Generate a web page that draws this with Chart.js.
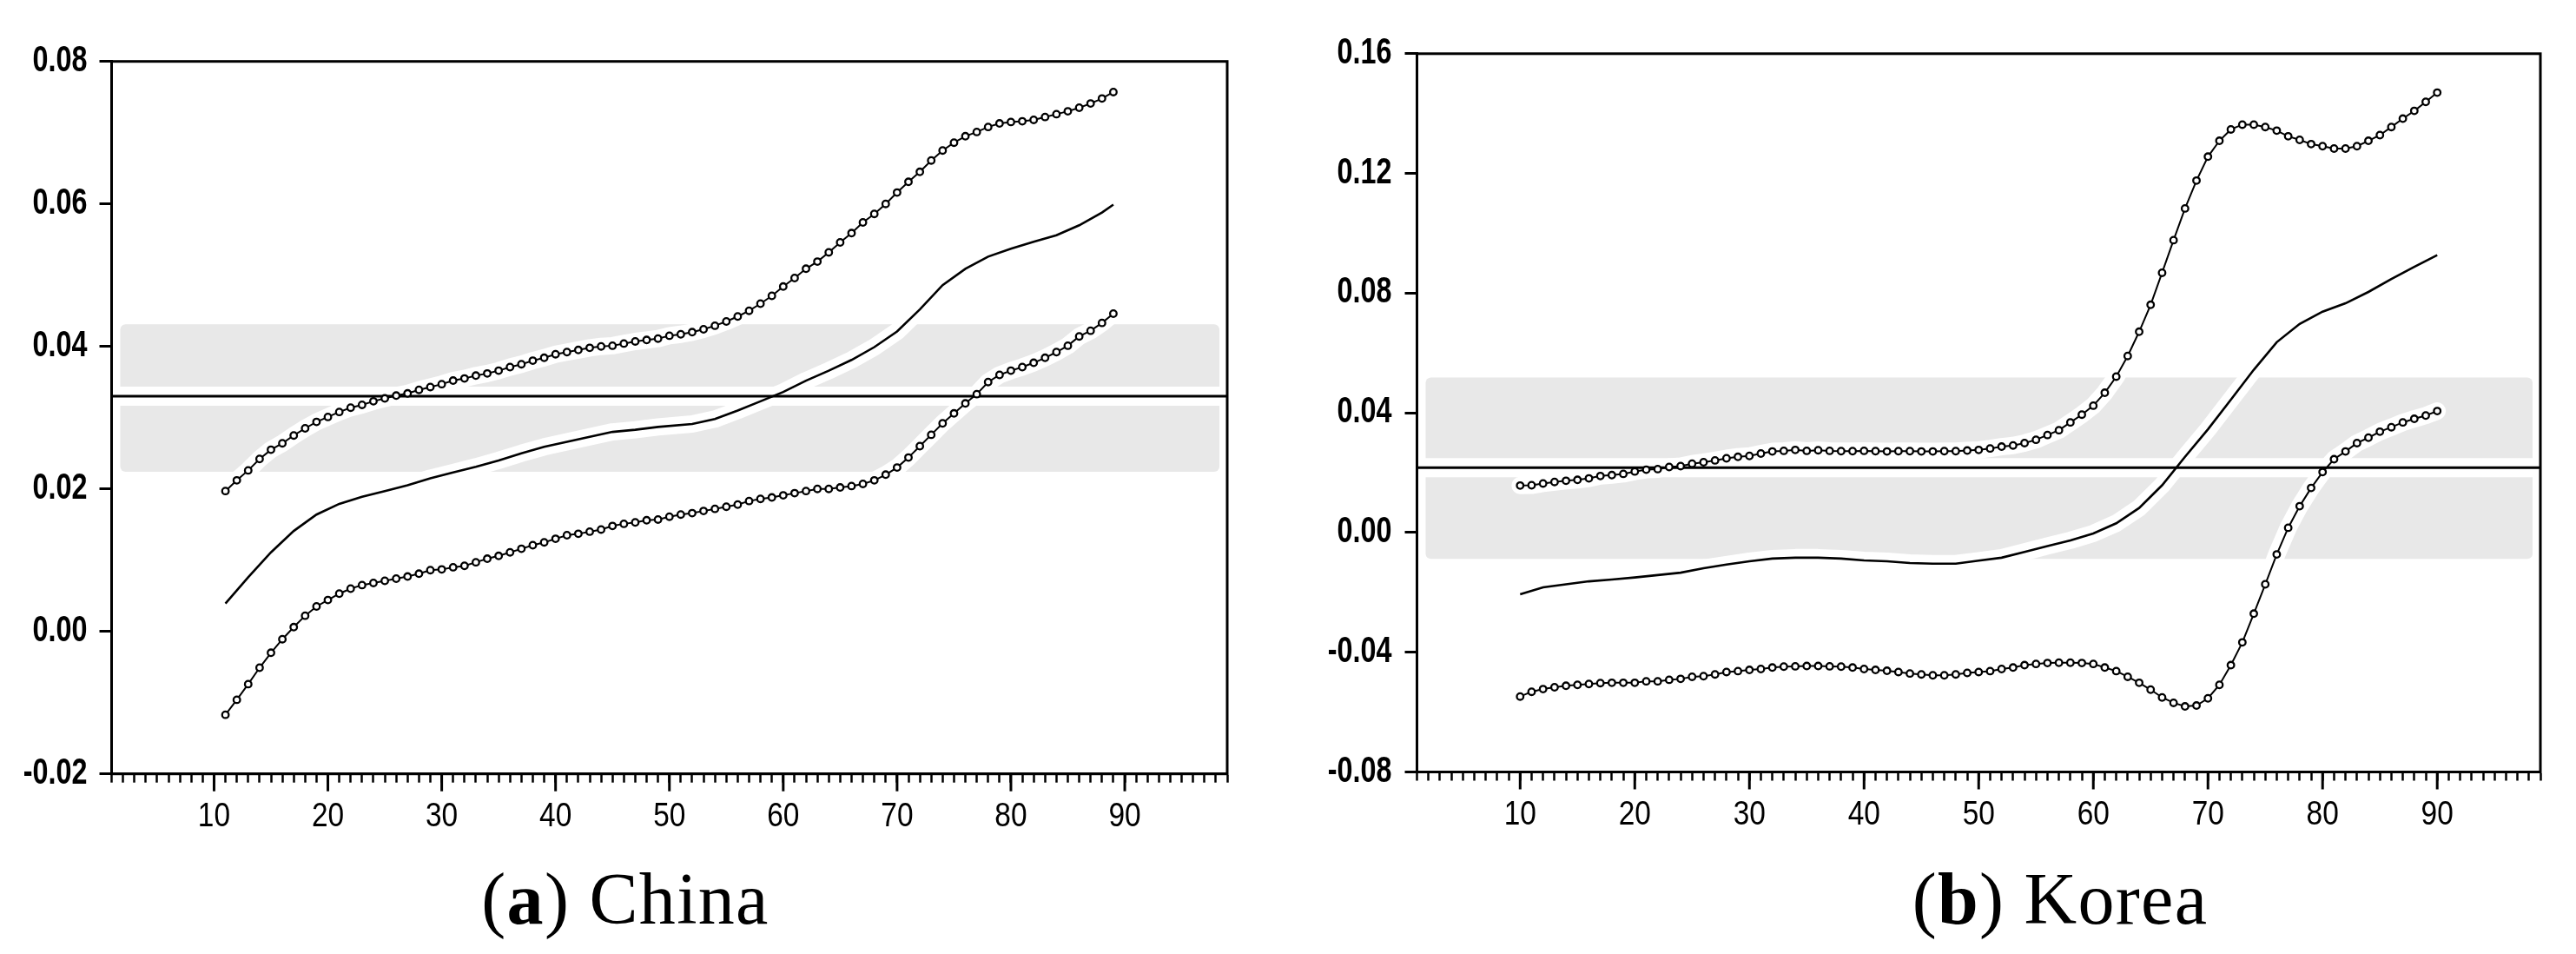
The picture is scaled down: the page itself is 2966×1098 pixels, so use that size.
<!DOCTYPE html>
<html>
<head>
<meta charset="utf-8">
<script src="https://cdn.jsdelivr.net/npm/chart.js@4.4.1/dist/chart.umd.min.js"></script>
<style>
body { margin: 0; background: #fff; width: 2966px; height: 1098px; position: relative; overflow: hidden; }
canvas { position: absolute; top: 0; }
#chinaCanvas { left: 0; }
#koreaCanvas { left: 1480px; }
.caption { position: absolute; top: 993px; font-family: "Liberation Serif", "Times New Roman", serif; font-size: 84px; line-height: 84px; letter-spacing: 1.3px; transform: translateX(-50%); white-space: nowrap; color: #000; }
</style>
</head>
<body>
<canvas id="chinaCanvas" width="1480" height="960"></canvas>
<canvas id="koreaCanvas" width="1486" height="960"></canvas>
<div class="caption" style="left:720px">(<b>a</b>) China</div>
<div class="caption" style="left:2372px">(<b>b</b>) Korea</div>
<script>
// quantiles (x) and estimates

const chinaQ = [11, 12, 13, 14, 15, 16, 17, 18, 19, 20, 21, 22, 23, 24, 25, 26, 27, 28, 29, 30,
    31, 32, 33, 34, 35, 36, 37, 38, 39, 40, 41, 42, 43, 44, 45, 46, 47, 48, 49, 50,
    51, 52, 53, 54, 55, 56, 57, 58, 59, 60, 61, 62, 63, 64, 65, 66, 67, 68, 69, 70,
    71, 72, 73, 74, 75, 76, 77, 78, 79, 80, 81, 82, 83, 84, 85, 86, 87, 88, 89];
const chinaUpper = [0.0197, 0.0212, 0.0226, 0.0242, 0.0255, 0.0264, 0.0275, 0.0285, 0.0294, 0.0301,
    0.0308, 0.0314, 0.0318, 0.0323, 0.0327, 0.0331, 0.0334, 0.0339, 0.0343, 0.0347,
    0.0352, 0.0355, 0.0359, 0.0362, 0.0366, 0.0371, 0.0375, 0.0380, 0.0384, 0.0389,
    0.0392, 0.0395, 0.0398, 0.0400, 0.0401, 0.0404, 0.0407, 0.0409, 0.0411, 0.0415,
    0.0417, 0.0420, 0.0424, 0.0429, 0.0435, 0.0442, 0.0450, 0.0460, 0.0471, 0.0484,
    0.0496, 0.0509, 0.0519, 0.0532, 0.0546, 0.0559, 0.0574, 0.0586, 0.0600, 0.0616,
    0.0631, 0.0645, 0.0661, 0.0675, 0.0686, 0.0695, 0.0701, 0.0708, 0.0713, 0.0715,
    0.0716, 0.0718, 0.0722, 0.0726, 0.0730, 0.0735, 0.0741, 0.0748, 0.0757];
const chinaLower = [-0.0117, -0.0096, -0.0074, -0.0051, -0.0030, -0.0011, 0.0006, 0.0022, 0.0035, 0.0044,
    0.0053, 0.0060, 0.0065, 0.0068, 0.0071, 0.0074, 0.0077, 0.0081, 0.0086, 0.0087,
    0.0090, 0.0092, 0.0097, 0.0102, 0.0106, 0.0111, 0.0116, 0.0121, 0.0125, 0.0130,
    0.0135, 0.0137, 0.0140, 0.0143, 0.0148, 0.0151, 0.0153, 0.0156, 0.0157, 0.0161,
    0.0164, 0.0166, 0.0169, 0.0172, 0.0175, 0.0178, 0.0183, 0.0186, 0.0188, 0.0191,
    0.0194, 0.0197, 0.0200, 0.0200, 0.0202, 0.0204, 0.0207, 0.0212, 0.0220, 0.0230,
    0.0244, 0.0260, 0.0276, 0.0292, 0.0306, 0.0320, 0.0333, 0.0350, 0.0360, 0.0366,
    0.0371, 0.0377, 0.0384, 0.0392, 0.0401, 0.0414, 0.0422, 0.0433, 0.0446];
const chinaMidQ = [11, 13, 15, 17, 19, 21, 23, 25, 27, 29, 31, 33, 35, 37, 39, 41, 43, 45, 47, 49,
    52, 54, 56, 58, 60, 62, 64, 66, 68, 70, 72, 74, 76, 78, 80, 82, 84, 86, 88, 89];
const chinaMid = [0.0039, 0.0076, 0.0111, 0.0141, 0.0164, 0.0179, 0.0189, 0.0197, 0.0205, 0.0215,
    0.0223, 0.0231, 0.0240, 0.0250, 0.0259, 0.0266, 0.0273, 0.0280, 0.0283, 0.0287,
    0.0291, 0.0298, 0.0310, 0.0323, 0.0336, 0.0352, 0.0366, 0.0381, 0.0399, 0.0421,
    0.0452, 0.0486, 0.0509, 0.0526, 0.0537, 0.0547, 0.0556, 0.0570, 0.0588, 0.0599];
const chinaRef = 0.0330;
const chinaBand = [0.0224, 0.0431];

const koreaQ = [10, 11, 12, 13, 14, 15, 16, 17, 18, 19, 20, 21, 22, 23, 24, 25, 26, 27, 28, 29,
    30, 31, 32, 33, 34, 35, 36, 37, 38, 39, 40, 41, 42, 43, 44, 45, 46, 47, 48, 49,
    50, 51, 52, 53, 54, 55, 56, 57, 58, 59, 60, 61, 62, 63, 64, 65, 66, 67, 68, 69,
    70, 71, 72, 73, 74, 75, 76, 77, 78, 79, 80, 81, 82, 83, 84, 85, 86, 87, 88, 89, 90];
const koreaUpper = [0.0157, 0.0158, 0.0164, 0.0169, 0.0173, 0.0176, 0.0181, 0.0189, 0.0192, 0.0196,
    0.0204, 0.0210, 0.0212, 0.0219, 0.0222, 0.0230, 0.0235, 0.0241, 0.0248, 0.0253,
    0.0256, 0.0264, 0.0271, 0.0273, 0.0276, 0.0273, 0.0275, 0.0273, 0.0272, 0.0272,
    0.0273, 0.0272, 0.0271, 0.0272, 0.0272, 0.0271, 0.0271, 0.0272, 0.0272, 0.0274,
    0.0276, 0.0281, 0.0287, 0.0291, 0.0299, 0.0310, 0.0326, 0.0342, 0.0368, 0.0394,
    0.0424, 0.0467, 0.0521, 0.0590, 0.0671, 0.0761, 0.0868, 0.0977, 0.1083, 0.1176,
    0.1256, 0.1309, 0.1347, 0.1363, 0.1363, 0.1355, 0.1343, 0.1324, 0.1312, 0.1298,
    0.1291, 0.1283, 0.1283, 0.1291, 0.1309, 0.1328, 0.1355, 0.1383, 0.1409, 0.1439, 0.1470];
const koreaLower = [-0.0548, -0.0532, -0.0523, -0.0517, -0.0512, -0.0509, -0.0506, -0.0503, -0.0502, -0.0502,
    -0.0502, -0.0497, -0.0497, -0.0492, -0.0489, -0.0482, -0.0480, -0.0474, -0.0466, -0.0463,
    -0.0459, -0.0456, -0.0451, -0.0448, -0.0447, -0.0446, -0.0446, -0.0447, -0.0448, -0.0451,
    -0.0456, -0.0459, -0.0462, -0.0466, -0.0471, -0.0474, -0.0477, -0.0477, -0.0474, -0.0469,
    -0.0466, -0.0463, -0.0456, -0.0451, -0.0443, -0.0439, -0.0436, -0.0435, -0.0435, -0.0436,
    -0.0439, -0.0451, -0.0463, -0.0482, -0.0502, -0.0525, -0.0551, -0.0569, -0.0581, -0.0578,
    -0.0554, -0.0509, -0.0443, -0.0367, -0.0271, -0.0173, -0.0073, 0.0016, 0.0088, 0.0149,
    0.0202, 0.0245, 0.0271, 0.0299, 0.0317, 0.0337, 0.0352, 0.0368, 0.0380, 0.0391, 0.0406];
const koreaMidQ = [10, 12, 14, 16, 18, 20, 22, 24, 26, 28, 30, 32, 34, 36, 38, 40, 42, 44, 46, 48,
    50, 52, 54, 56, 58, 60, 62, 64, 66, 68, 70, 72, 74, 76, 78, 80, 82, 84, 86, 88, 90];
const koreaMid = [-0.0206, -0.0183, -0.0173, -0.0163, -0.0157, -0.0150, -0.0142, -0.0134, -0.0119, -0.0107,
    -0.0096, -0.0087, -0.0084, -0.0084, -0.0087, -0.0093, -0.0096, -0.0102, -0.0104, -0.0104,
    -0.0094, -0.0084, -0.0065, -0.0045, -0.0026, -0.0003, 0.0031, 0.0082, 0.0158, 0.0253,
    0.0345, 0.0444, 0.0544, 0.0636, 0.0697, 0.0738, 0.0766, 0.0804, 0.0847, 0.0888, 0.0927];
const koreaRef = 0.0217;
const koreaBand = [-0.0088, 0.0518];

function pts(xs, ys) {
    return xs.map((x, i) => ({ x: x, y: ys[i] }));
}

// squeezed text, the tick fonts in the picture are much narrower than any installed face
function squeezed(ctx, text, x, y, align, sx) {
    const w = ctx.measureText(text).width * sx;
    const left = align === "right" ? x - w : align === "center" ? x - w / 2 : x;
    ctx.save();
    ctx.translate(left, y);
    ctx.scale(sx, 1);
    ctx.textAlign = "left";
    ctx.fillText(text, 0, 0);
    ctx.restore();
}

// grey band, outer box, long ticks at every tenth and the tick labels
const framePlugin = {
    id: "frame",
    beforeDatasetsDraw(chart, args, opts) {
        const { ctx, chartArea: a, scales } = chart;
        const top = scales.y.getPixelForValue(opts.band[1]);
        const bottom = scales.y.getPixelForValue(opts.band[0]);
        ctx.save();
        ctx.fillStyle = "#e8e8e8";
        ctx.beginPath();
        ctx.roundRect(a.left + 10, top, a.right - a.left - 19, bottom - top, 6);
        ctx.fill();
        ctx.restore();
    },
    afterDraw(chart, args, opts) {
        const { ctx, chartArea: a, scales } = chart;
        ctx.save();
        ctx.strokeStyle = "#000";
        ctx.fillStyle = "#000";
        ctx.lineWidth = 3;
        ctx.strokeRect(a.left, a.top, a.right - a.left, a.bottom - a.top);

        ctx.textBaseline = "alphabetic";
        ctx.font = "38px 'Liberation Sans', Arial, sans-serif";
        scales.x.ticks.forEach((t) => {
            if (t.value % 10 !== 0) return;
            const px = scales.x.getPixelForValue(t.value);
            ctx.beginPath();
            ctx.moveTo(px, a.bottom);
            ctx.lineTo(px, a.bottom + 20);
            ctx.stroke();
            squeezed(ctx, String(t.value), px, a.bottom + 60, "center", 0.88);
        });

        ctx.font = "bold 42px 'Liberation Sans', Arial, sans-serif";
        scales.y.ticks.forEach((t) => {
            const py = scales.y.getPixelForValue(t.value);
            squeezed(ctx, t.value.toFixed(2), a.left - opts.labelGap, py + 11, "right", 0.77);
        });
        ctx.restore();
    },
};

function makeChart(id, d) {
    const halo = { borderColor: "#fff", borderWidth: 20, pointRadius: 0, borderCapStyle: "round", borderJoinStyle: "round", order: 10 };
    const marked = { borderColor: "#000", borderWidth: 2, pointRadius: 3.8, pointBorderWidth: 2.3, pointBackgroundColor: "#fff", pointBorderColor: "#000", order: 1 };
    const refPts = [{ x: 1, y: d.ref }, { x: 99, y: d.ref }];

    return new Chart(document.getElementById(id), {
        type: "line",
        data: {
            datasets: [
                Object.assign({ data: pts(d.q, d.upper) }, halo),
                Object.assign({ data: pts(d.q, d.lower) }, halo),
                Object.assign({ data: pts(d.midQ, d.mid) }, halo),
                Object.assign({ data: refPts }, halo, { borderWidth: 22, borderCapStyle: "butt" }),
                { data: refPts, borderColor: "#000", borderWidth: 3, pointRadius: 0, order: 5 },
                Object.assign({ data: pts(d.q, d.upper) }, marked),
                Object.assign({ data: pts(d.q, d.lower) }, marked),
                { data: pts(d.midQ, d.mid), borderColor: "#000", borderWidth: 2.6, pointRadius: 0, order: 1 },
            ],
        },
        options: {
            responsive: false,
            animation: false,
            events: [],
            layout: { padding: { left: 0, right: d.padRight, top: d.padTop, bottom: 0 } },
            plugins: {
                legend: { display: false },
                tooltip: { enabled: false },
                frame: { band: d.band, labelGap: d.labelGap },
            },
            scales: {
                x: {
                    type: "linear",
                    min: 1,
                    max: 99,
                    afterFit: (s) => { s.height = d.xHeight; },
                    border: { color: "#000", width: 3 },
                    grid: { drawOnChartArea: false, tickLength: 10, tickWidth: 2.5, tickColor: "#000" },
                    ticks: { display: false, stepSize: 1, autoSkip: false },
                },
                y: {
                    min: d.yMin,
                    max: d.yMax,
                    afterFit: (s) => { s.width = d.yWidth; },
                    border: { color: "#000", width: 3 },
                    grid: { drawOnChartArea: false, tickLength: 14, tickWidth: 3, tickColor: "#000" },
                    ticks: { display: false, stepSize: d.yStep },
                },
            },
        },
        plugins: [framePlugin],
    });
}

makeChart("chinaCanvas", {
    q: chinaQ, upper: chinaUpper, lower: chinaLower, midQ: chinaMidQ, mid: chinaMid,
    ref: chinaRef, band: chinaBand, yMin: -0.02, yMax: 0.08, yStep: 0.02,
    padRight: 67, padTop: 70.7, yWidth: 128.5, xHeight: 69.3, labelGap: 28,
});

makeChart("koreaCanvas", {
    q: koreaQ, upper: koreaUpper, lower: koreaLower, midQ: koreaMidQ, mid: koreaMid,
    ref: koreaRef, band: koreaBand, yMin: -0.08, yMax: 0.16, yStep: 0.04,
    padRight: 41, padTop: 61.8, yWidth: 151.5, xHeight: 71.5, labelGap: 29,
});
</script>
</body>
</html>
